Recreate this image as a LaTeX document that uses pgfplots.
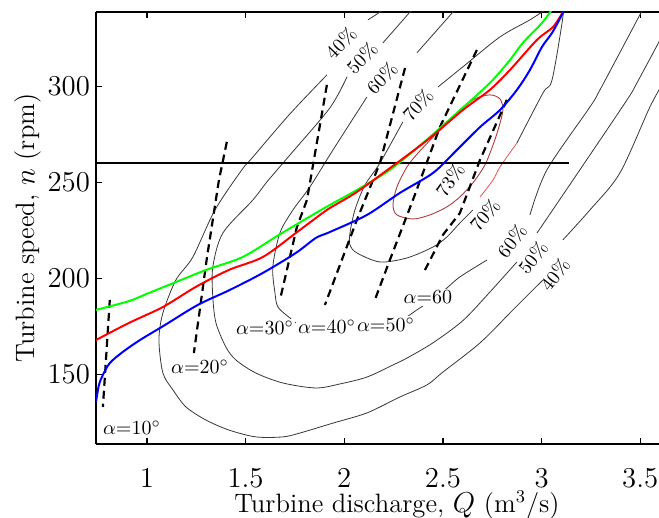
\documentclass[border=0pt]{standalone}
\usepackage{pgfplots}
\pgfplotsset{compat=1.18}
\definecolor{cont}{RGB}{55,55,55}
\definecolor{dred}{RGB}{175,60,60}
\definecolor{lred}{RGB}{240,80,80}
\begin{document}
\begin{tikzpicture}
\begin{axis}[
  scale only axis, width=281.5pt, height=216pt,
  xmin=0.742, xmax=3.595, ymin=113.7, ymax=338.9,
  axis x line=box, axis y line=left,
  x axis line style={-}, y axis line style={-},
  axis line style={line width=0.8pt},
  tick align=inside, major tick length=3pt,
  tick style={black, line width=0.6pt},
  xtick={1,1.5,2,2.5,3,3.5}, ytick={150,200,250,300},
  tick label style={font=\fontsize{13.3}{16}\selectfont},
  xticklabel style={yshift=-9pt},
  yticklabel style={xshift=0.5pt},
  xlabel={Turbine discharge, $Q$ (m$^3$/s)},
  ylabel={Turbine speed, $n$ (rpm)},
  label style={font=\fontsize{13.3}{16}\selectfont},
  xlabel style={at={(axis description cs:0.5345,0)}, anchor=base, yshift=-34.5pt},
  ylabel style={at={(axis description cs:-0.1208,0.5)}, anchor=center, rotate=0},
  clip=true,
]
% ---- 40% contour
\addplot[cont, line width=0.4pt, smooth] coordinates {
(2.221,342.6)(2.181,338.9)(2.120,334.8)};
\addplot[cont, line width=0.4pt, smooth] coordinates {
(1.912,306.1)(1.725,285.8)(1.537,263.3)(1.481,256.6)(1.345,235.7)(1.233,211.2)
(1.147,199.2)(1.081,182.0)(1.061,167.9)(1.081,150.7)(1.132,141.9)(1.198,133.0)
(1.299,126.2)(1.415,121.0)(1.552,117.4)(1.689,117.4)(1.775,119.4)(1.943,124.6)
(2.115,129.9)(2.282,138.2)(2.419,144.5)(2.500,151.2)(2.688,166.4)(2.855,183.6)(3.007,199.2)};
\addplot[cont, line width=0.4pt, smooth] coordinates {
(3.108,220.1)(3.245,235.7)(3.397,255.0)(3.549,289.4)(3.625,303.5)};
% ---- 50% contour
\addplot[cont, line width=0.4pt, smooth] coordinates {
(2.363,342.6)(2.333,338.9)(2.196,322.8)};
\addplot[cont, line width=0.4pt, smooth] coordinates {
(2.014,305.1)(1.927,288.9)(1.725,264.4)(1.608,250.3)(1.537,240.9)(1.385,223.7)
(1.334,206.0)(1.334,190.3)(1.350,176.8)(1.400,164.3)(1.451,157.5)(1.552,150.7)
(1.689,145.5)(1.856,142.9)(1.978,145.0)(2.115,148.6)(2.247,154.9)(2.318,158.5)
(2.449,166.4)(2.601,178.0)(2.738,192.9)(2.875,208.6)};
\addplot[cont, line width=0.4pt, smooth] coordinates {
(2.977,223.7)(3.194,256.6)(3.433,293.1)(3.483,301.9)(3.600,324.3)};
% ---- 60% contour
\addplot[cont, line width=0.4pt, smooth] coordinates {
(2.581,342.6)(2.551,338.9)(2.368,317.6)};
\addplot[cont, line width=0.4pt, smooth] coordinates {
(2.115,294.6)(1.943,267.0)(1.826,247.7)(1.740,235.7)(1.674,223.7)(1.638,206.0)
(1.649,192.4)(1.664,185.1)(1.725,179.4)(1.770,176.3)(1.927,172.6)(2.064,171.6)
(2.206,174.7)(2.307,179.4)(2.368,183.6)(2.444,188.8)(2.520,195.0)(2.586,200.8)(2.723,209.6)};
\addplot[cont, line width=0.4pt, smooth] coordinates {
(2.941,233.1)(3.027,256.6)(3.245,289.4)(3.296,298.3)(3.498,337.4)(3.524,342.6)};
% ---- 70% contour
\addplot[cont, line width=0.4pt, smooth] coordinates {
(3.032,341.0)(2.941,334.8)(2.789,325.9)(2.601,310.3)(2.475,299.8)};
\addplot[cont, line width=0.4pt, smooth] coordinates {
(2.297,281.6)(2.181,260.2)(2.105,248.7)(2.054,235.7)(2.029,223.7)(2.029,217.4)
(2.064,213.3)(2.181,208.6)(2.318,210.7)(2.450,216.4)(2.520,221.6)(2.586,228.9)(2.652,235.7)};
\addplot[lred, line width=0.4pt, smooth] coordinates {
(2.688,242.5)(2.754,251.3)(2.789,258.1)(2.875,270.6)};
\addplot[cont, line width=0.4pt, smooth] coordinates {
(2.875,270.6)(3.007,296.7)(3.053,303.5)(3.108,336.3)(3.103,341.0)};
% ---- 73% contour
\addplot[dred, line width=0.45pt, smooth cycle] coordinates {
(2.374,265.4)(2.318,258.1)(2.267,247.7)(2.247,238.3)(2.267,233.1)(2.348,231.0)
(2.434,233.1)(2.520,237.3)(2.586,242.5)(2.652,249.8)(2.713,259.2)(2.754,269.6)
(2.784,279.0)(2.804,287.8)(2.789,293.6)(2.738,295.7)(2.662,293.6)(2.586,287.8)(2.485,277.4)};
% ---- guide vane opening lines
\addplot[black, line width=1.1pt, dash pattern=on 4pt off 2.5pt] coordinates {
(0.812,188.8)(0.777,133.0)};
\addplot[black, line width=1.1pt, dash pattern=on 4pt off 2.5pt] coordinates {
(1.405,271.2)(1.365,251.3)(1.304,210.7)(1.238,161.1)};
\addplot[black, line width=1.1pt, dash pattern=on 4pt off 2.5pt] coordinates {
(1.912,300.9)(1.811,240.9)(1.760,226.8)(1.674,188.8)};
\addplot[black, line width=1.1pt, dash pattern=on 4pt off 2.5pt] coordinates {
(2.308,309.7)(2.181,260.2)(2.064,230.5)(1.902,186.2)};
\addplot[black, line width=1.1pt, dash pattern=on 4pt off 2.5pt] coordinates {
(2.672,319.1)(2.485,279.0)(2.348,240.9)(2.231,209.6)(2.155,188.8)};
\addplot[black, line width=1.1pt, dash pattern=on 4pt off 2.5pt] coordinates {
(2.824,293.1)(2.688,261.8)(2.586,234.1)(2.500,222.7)(2.409,204.4)};
% ---- horizontal speed line
\addplot[black, line width=1pt] coordinates {(0.742,260)(3.14,260)};
% ---- operating curves
\addplot[green, line width=1pt, smooth] coordinates {
(0.742,183.6)(0.909,188.2)(1.000,192.0)(1.111,196.6)(1.299,204.4)(1.486,211.2)
(1.669,222.7)(1.856,234.1)(1.927,238.3)(2.064,246.1)(2.231,256.6)(2.399,270.6)
(2.571,286.3)(2.738,301.9)(2.840,313.9)(2.905,322.8)(3.002,333.2)(3.058,341.0)};
\addplot[red, line width=1pt, smooth] coordinates {
(0.742,167.9)(0.909,176.8)(1.081,185.1)(1.248,195.6)(1.415,204.4)(1.588,211.2)
(1.755,223.7)(1.856,231.5)(1.927,236.7)(2.064,245.1)(2.267,260.2)(2.434,273.2)
(2.601,287.8)(2.738,298.3)(2.840,308.7)(2.976,324.3)(3.058,331.1)(3.108,338.9)};
\addplot[blue, line width=1pt, smooth] coordinates {
(0.742,135.6)(0.757,144.5)(0.777,149.7)(0.812,155.9)(0.878,161.7)(0.965,167.9)
(1.091,175.7)(1.258,186.2)(1.420,194.0)(1.588,202.9)(1.755,213.3)(1.856,221.1)
(1.927,224.2)(2.115,233.1)(2.282,244.6)(2.450,255.0)(2.571,267.0)(2.688,278.9)
(2.789,287.8)(2.875,298.3)(2.941,308.7)(3.002,320.7)(3.053,328.0)(3.103,337.4)(3.108,338.9)};
% ---- labels
\begin{scope}[every node/.style={font=\fontsize{9.6}{11}\selectfont, inner sep=0pt}]
\node[rotate=46] at (axis cs:1.983,322.8) {40\%};
\node[rotate=46] at (axis cs:2.090,315.0) {50\%};
\node[rotate=46] at (axis cs:2.191,304.5) {60\%};
\node[rotate=48] at (axis cs:2.373,290.5) {70\%};
\node[rotate=55] at (axis cs:2.536,251.3) {73\%};
\node[rotate=50] at (axis cs:2.713,233.1) {70\%};
\node[rotate=52] at (axis cs:2.850,219.5) {60\%};
\node[rotate=52] at (axis cs:2.956,210.7) {50\%};
\node[rotate=52] at (axis cs:3.068,201.8) {40\%};
\end{scope}
\begin{scope}[every node/.style={font=\fontsize{10}{12}\selectfont, inner sep=0.8pt, fill=white}]
\node at (axis cs:0.924,122.0) {$\alpha$=10$^\circ$};
\node at (axis cs:1.269,153.9) {$\alpha$=20$^\circ$};
\node at (axis cs:1.598,174.2) {$\alpha$=30$^\circ$};
\node at (axis cs:1.912,174.7) {$\alpha$=40$^\circ$};
\node at (axis cs:2.211,175.7) {$\alpha$=50$^\circ$};
\node at (axis cs:2.424,190.3) {$\alpha$=60};
\end{scope}
\end{axis}
\pgfresetboundingbox
\path (current axis.south west) ++(-48pt,-37pt) rectangle ++(329.5pt,259pt);
\end{tikzpicture}
\end{document}
